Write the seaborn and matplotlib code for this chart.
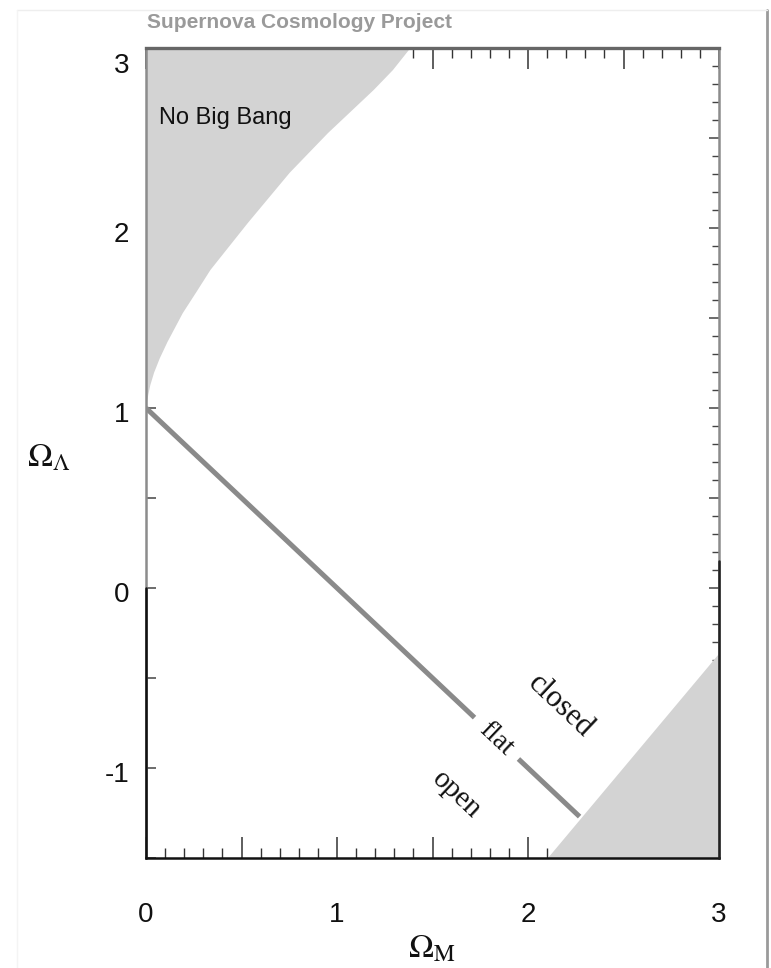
import matplotlib
matplotlib.use("Agg")
import numpy as np
import pandas as pd
import seaborn as sns
import matplotlib.pyplot as plt
from matplotlib.ticker import MultipleLocator, FuncFormatter
from matplotlib.lines import Line2D
from matplotlib.transforms import ScaledTranslation

# ---------------- data ----------------
# "No Big Bang" boundary (Omega_M, Omega_Lambda)
nbb_om = [0.0, 0.003, 0.01, 0.02, 0.04, 0.07, 0.11, 0.15, 0.19, 0.26, 0.335,
          0.44, 0.53, 0.64, 0.75, 0.85, 0.95, 1.07, 1.19, 1.29, 1.38]
nbb_ol = [1.0, 1.04, 1.08, 1.13, 1.20, 1.28, 1.37, 1.45, 1.53, 1.645, 1.77,
          1.91, 2.03, 2.17, 2.31, 2.42, 2.53, 2.65, 2.77, 2.88, 3.0]
# lower-right shaded region boundary
rc_om = [2.10, 3.0]
rc_ol = [-1.5, -0.36]
# flat-universe line (two segments, gap for the "flat" label)
flat_om = [0.0, 1.72, 1.95, 2.27]
flat_ol = [1.0, -0.72, -0.95, -1.27]
flat_seg = [0, 0, 1, 1]

x_ticks = [0, 1, 2, 3]
y_ticks = [-1, 0, 1, 2, 3]
x_ticklabels = ["0", "1", "2", "3"]
y_ticklabels = ["-1", "0", "1", "2", "3"]

region_labels = ["closed", "flat", "open"]
region_om = [2.17, 1.835, 1.625]
region_ol = [-0.655, -0.84, -1.15]
region_sizes = [22, 20, 21]

# ---------------- style ----------------
sns.set_theme(style="ticks")
plt.rcParams["font.family"] = ["Liberation Sans", "DejaVu Sans"]
plt.rcParams["mathtext.fontset"] = "stix"

fig = plt.figure(figsize=(7.71, 9.68), dpi=100)
fig.patch.set_facecolor("white")
ax = fig.add_axes([146 / 771, 1 - 858 / 968, (719 - 146) / 771, (858 - 48) / 968])
ax.set_facecolor("white")
ax.set_xlim(0, 3)
ax.set_ylim(-1.5, 3)

shade = "#d3d3d3"
ax.fill_betweenx(nbb_ol, 0, nbb_om, color=shade, lw=0, zorder=1)
ax.fill_between(rc_om, -1.5, rc_ol, color=shade, lw=0, zorder=1)

df = pd.DataFrame({"om": flat_om, "ol": flat_ol, "seg": flat_seg})
sns.lineplot(data=df, x="om", y="ol", units="seg", estimator=None,
             color="#8a8a8a", lw=3.6, ax=ax, zorder=3, solid_capstyle="butt")

ax.text(0.07, 2.61, "No Big Bang", fontsize=17, ha="left", va="center",
        color="#111111", zorder=4)

for lab, xo, yo, fs in zip(region_labels, region_om, region_ol, region_sizes):
    ax.text(xo, yo, lab, rotation=-43.3, rotation_mode="anchor",
            ha="center", va="center", fontsize=fs, color="#111111",
            family=["Liberation Serif", "DejaVu Serif"], zorder=4)

# ticks
ax.xaxis.set_major_locator(MultipleLocator(0.5))
ax.xaxis.set_minor_locator(MultipleLocator(0.1))
ax.yaxis.set_major_locator(MultipleLocator(0.5))
ax.yaxis.set_minor_locator(MultipleLocator(0.1))
xl = dict(zip(x_ticks, x_ticklabels))
yl = dict(zip(y_ticks, y_ticklabels))
ax.xaxis.set_major_formatter(FuncFormatter(
    lambda v, p: xl.get(int(round(v)), "") if abs(v - round(v)) < 1e-6 else ""))
ax.yaxis.set_major_formatter(FuncFormatter(
    lambda v, p: yl.get(int(round(v)), "") if abs(v - round(v)) < 1e-6 else ""))

ax.tick_params(axis="x", which="major", direction="in", top=True, bottom=True,
               length=15, width=1.1, color="#333333", labelsize=20, pad=32,
               labelcolor="#111111")
ax.tick_params(axis="x", which="minor", direction="in", top=True, bottom=True,
               length=7, width=1.0, color="#333333")
ax.tick_params(axis="y", which="major", direction="in", left=True, right=True,
               length=7, width=1.1, color="#444444", labelsize=20, pad=12,
               labelcolor="#111111")
ax.tick_params(axis="y", which="minor", direction="in", left=False, right=True,
               length=5, width=1.0, color="#444444")
ax.set_xlabel("")
ax.set_ylabel("")

# y tick labels sit slightly below their ticks in the reference
fig.canvas.draw()
for loc, tick in zip(ax.get_yticks(), ax.yaxis.get_major_ticks()):
    dy = -15 if abs(loc - 3) < 1e-6 else -4
    tick.label1.set_transform(tick.label1.get_transform() +
                              ScaledTranslation(0, dy / 100, fig.dpi_scale_trans))

for side, col, lw in [("top", "#666666", 2.4), ("bottom", "#111111", 1.8),
                      ("left", "#8c8c8c", 1.8), ("right", "#8c8c8c", 1.8)]:
    ax.spines[side].set_color(col)
    ax.spines[side].set_linewidth(lw)
    ax.spines[side].set_zorder(5)
# darker lower part of the left/right frame
ax.axvline(0, ymin=0, ymax=1.5 / 4.5, color="#111111", lw=1.8, zorder=6, clip_on=False)
ax.axvline(3, ymin=0, ymax=1.65 / 4.5, color="#222222", lw=1.8, zorder=6, clip_on=False)

# axis labels
fig.text(49 / 771, 1 - 458 / 968, r"$\Omega_\Lambda$", fontsize=24,
         ha="center", va="center", color="#111111")
fig.text(432 / 771, 1 - 949 / 968, r"$\Omega_{\rm M}$", fontsize=24,
         ha="center", va="center", color="#111111")

# title
fig.text(147 / 771, 1 - 22 / 968, "Supernova Cosmology Project", fontsize=15,
         fontweight="bold", color="#9a9a9a", ha="left", va="center")

# faint page frame
fig.add_artist(Line2D([767 / 771, 767 / 771], [0, 1 - 10 / 968], transform=fig.transFigure,
                      color="#9a9a9a", lw=2))
fig.add_artist(Line2D([17 / 771, 767 / 771], [1 - 10 / 968, 1 - 10 / 968],
                      transform=fig.transFigure, color="#eeeeee", lw=1))
fig.add_artist(Line2D([17 / 771, 17 / 771], [0, 1 - 10 / 968],
                      transform=fig.transFigure, color="#f4f4f4", lw=1))

fig.savefig("out.png", dpi=100, facecolor="white")
